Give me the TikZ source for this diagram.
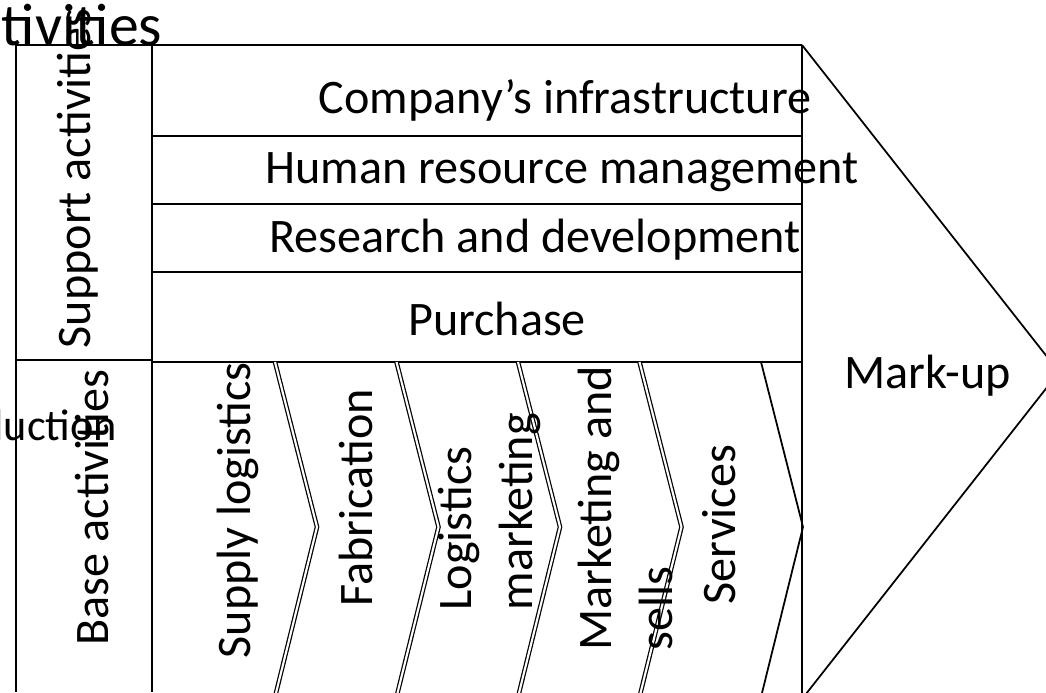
\documentclass[tikz,border=0pt]{standalone}
\usepackage{fontspec}
\setmainfont{Carlito}
\begin{document}
\begin{tikzpicture}[font=\fontsize{13.7}{17.2}\selectfont,
    txt/.style={inner sep=0pt, anchor=base},
    vtxt/.style={inner sep=0pt, rotate=90, anchor=base west, align=left},
    chev/.style={double, double distance=0.6pt, line width=0.35pt}]
    \useasboundingbox (0,0) rectangle (10.46,6.92);
    \clip (0,0) rectangle (10.46,6.92);
    % left column
    \draw[line width=0.5pt] (0.16,0)--(0.16,6.47)--(1.52,6.47)--(1.52,0);
    \draw[line width=0.5pt] (0.16,3.32)--(1.52,3.32);
    % support rows
    \draw[line width=0.6pt] (1.52,6.47)--(8.02,6.47);
    \foreach \y in {5.56,4.88,4.20,3.30}
        \draw[line width=0.6pt] (1.52,\y)--(8.02,\y);
    \draw[line width=0.6pt] (8.02,-0.1)--(8.02,6.47);
    % mark-up
    \draw[line width=0.5pt] (8.02,6.47)--(10.59,3.20)--(8.02,-0.07);
    % chevrons
    \foreach \i in {0,...,3}
        \draw[chev] ({2.75+1.215*\i},3.30)--({3.17+1.215*\i},1.65)--({2.75+1.215*\i},-0.05);
    \draw[line width=0.5pt] (7.61,3.30)--(8.03,1.65)--(7.61,-0.05);
    \node[vtxt] (sup) at (0.90,3.43) {Support activities};
    \node[vtxt] (base) at (1.08,0.46) {Base activities};
    \node[txt, anchor=base east, font=\fontsize{17}{20}\selectfont] (act) at (1.63,6.47) {tivities};
    \node[txt, anchor=base east, font=\fontsize{12.6}{15}\selectfont] (prod) at (1.18,2.52) {duction};
    \node[txt] (infra) at (5.65,5.79) {Company’s infrastructure};
    \node[txt] (hrm) at (5.62,5.09) {Human resource management};
    \node[txt] (rnd) at (5.35,4.40) {Research and development};
    \node[txt] (purch) at (4.97,3.57) {Purchase};
    \node[txt] (markup) at (9.275,3.04) {Mark-up};
    \node[vtxt] (supply) at (2.50,0.33) {Supply logistics};
    \node[vtxt] (fab) at (3.72,0.85) {Fabrication};
    \node[vtxt] (logm) at (5.32,0.81) {Logistics\\marketing};
    \node[vtxt] (mks) at (6.72,0.41) {Marketing and\\sells};
    \node[vtxt] (serv) at (7.35,0.87) {Services};
\end{tikzpicture}
\end{document}
